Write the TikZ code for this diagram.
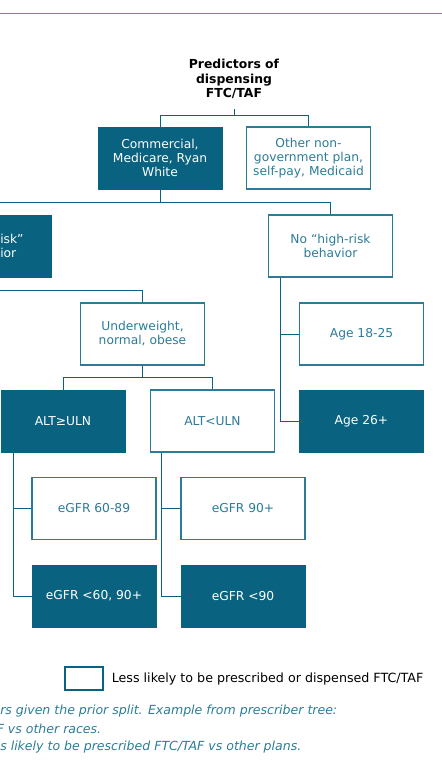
\documentclass[tikz,border=0pt]{standalone}
\usepackage{fontspec}
\setmainfont{DejaVu Sans}
\usepackage{tikz}
\usetikzlibrary{positioning}
\definecolor{teal1}{HTML}{09627F}
\definecolor{teal2}{HTML}{2C7C98}
\definecolor{rule}{HTML}{5E8E9E}
\begin{document}
\begin{tikzpicture}[x=0.75pt, y=-0.75pt,
  box/.style={rectangle, minimum width=93pt, minimum height=46.5pt, align=center, inner sep=1pt, font=\fontsize{9.2}{10.5}\selectfont},
  fillbox/.style={box, fill=teal1, draw=teal1, text=white},
  openbox/.style={box, fill=white, draw=teal2, line width=0.9pt, text=teal2},
  link/.style={draw=teal1, line width=0.75pt}]
\useasboundingbox (0,0) rectangle (442,779);
\draw[rule, line width=1.1pt](0,13.5)--(442,13.5);
\node[align=center, font=\fontsize{9.3}{10.9}\selectfont\bfseries] (title) at (234,79) {Predictors of\\dispensing\\FTC/TAF};
\node[fillbox] (comm) at (160,158) {Commercial,\\Medicare, Ryan\\White};
\node[openbox] (other) at (308.5,158) {Other non-\\government plan,\\self-pay, Medicaid};
\node[fillbox] (hrisk) at (-11,246) {};
\node[anchor=west, align=left, inner sep=0pt, text=white, font=\fontsize{9.2}{10.5}\selectfont] (hrtext) at (0,246) {isk”\\ior};
\node[openbox] (nohr) at (330.5,246) {No “high-risk\\behavior};
\node[openbox] (under) at (142.5,334) {Underweight,\\normal, obese};
\node[openbox] (young) at (361.5,334) {Age 18-25};
\node[fillbox] (altge) at (63,421) {ALT≥ULN};
\node[openbox] (altlt) at (212.5,421) {ALT<ULN};
\node[fillbox] (old) at (361.5,421) {Age 26+};
\node[openbox] (egmid) at (94,508.5) {eGFR 60-89};
\node[fillbox] (egout) at (94,596) {eGFR <60, 90+};
\node[openbox] (eghigh) at (243,508.5) {eGFR 90+};
\node[fillbox] (eglow) at (243,596) {eGFR <90};
\coordinate (t0) at (234,109);
\coordinate (j0) at (234,115);
\coordinate (j1) at (160,202);
\coordinate (j2) at (-11,290);
\coordinate (j3) at (142.5,377);
\coordinate (s1) at ([xshift=9.75pt]nohr.south west);
\coordinate (s2) at ([xshift=9.75pt]altge.south west);
\coordinate (s3) at ([xshift=9pt]altlt.south west);
\draw[link](t0)--(j0)-|(comm);
\draw[link](j0)-|(other);
\draw[link](comm)--(j1)-|(hrisk);
\draw[link](j1)-|(nohr);
\draw[link](hrisk)--(j2)-|(under);
\draw[link](under)--(j3)-|(altge);
\draw[link](j3)-|(altlt);
\draw[link](s1)|-(young);
\draw[link](s1)|-(old);
\draw[link](s2)|-(egmid);
\draw[link](s2)|-(egout);
\draw[link](s3)|-(eghigh);
\draw[link](s3)|-(eglow);
\node[draw=teal1, line width=0.9pt, minimum width=28.5pt, minimum height=17.25pt, inner sep=0pt] (key) at (84,678.5) {};
\node[right=6pt of key, inner sep=0pt, font=\fontsize{9.5}{11}\selectfont] (keytext) {Less likely to be prescribed or dispensed FTC/TAF};
\node[anchor=west, inner sep=0pt, text=teal2, font=\fontsize{9.4}{11}\selectfont\itshape] (note1) at (0,711) {rs given the prior split. Example from prescriber tree:};
\node[anchor=west, inner sep=0pt, text=teal2, font=\fontsize{9.4}{11}\selectfont\itshape] (note2) at (-3.5,729) {F vs other races.};
\node[anchor=west, inner sep=0pt, text=teal2, font=\fontsize{9.4}{11}\selectfont\itshape] (note3) at (0,747) {s likely to be prescribed FTC/TAF vs other plans.};
\end{tikzpicture}
\end{document}
